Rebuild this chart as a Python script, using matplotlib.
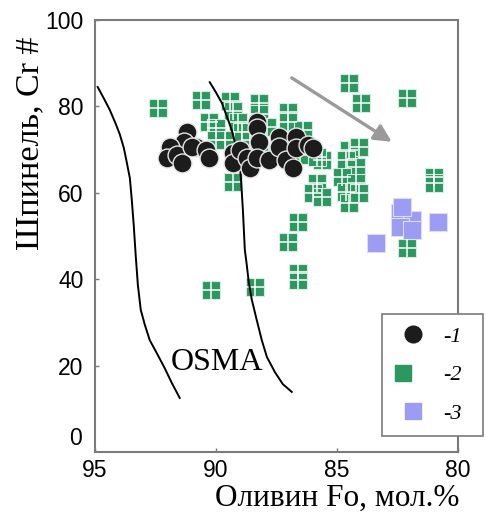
import numpy as np
import matplotlib
matplotlib.use("Agg")
import matplotlib.pyplot as plt
from matplotlib.lines import Line2D
from matplotlib.legend_handler import HandlerTuple

# --- data (Olivine Fo, Spinel Cr#) ---
# group 1: black circles
fo_1 = [91.2, 91.3, 91.9, 92.0, 91.6, 91.4, 90.8, 91.0, 90.4, 90.3,
        89.3, 89.3, 89.0, 88.7, 88.6, 88.3, 88.3, 88.2, 88.3, 87.8,
        87.4, 87.4, 87.1, 86.7, 86.7, 86.8, 86.2, 86.0]
cr_1 = [74.1, 71.8, 70.6, 68.1, 68.8, 66.9, 70.6, 70.6, 69.9, 68.1,
        69.2, 66.9, 69.9, 68.1, 65.7, 76.4, 75.0, 71.8, 68.1, 67.6,
        72.9, 70.6, 67.6, 72.9, 70.4, 65.7, 71.1, 70.4]

# group 2: green squares
fo_2 = [92.4, 90.6, 89.4, 89.3, 88.2, 88.2, 87.0, 87.0, 90.3, 90.0,
        89.1, 88.9, 87.9, 89.6, 88.6, 87.1, 86.5, 90.0, 87.8, 86.4,
        89.3, 85.8, 85.6, 85.8, 86.0, 85.6, 84.5, 84.0, 82.1, 84.5,
        84.1, 84.6, 84.2, 84.8, 84.6, 84.5, 84.2, 84.1, 86.6, 87.0,
        86.6, 86.6, 88.4, 90.2, 81.0, 81.0, 82.1]
cr_2 = [79.6, 81.5, 81.3, 78.9, 80.8, 78.2, 78.7, 76.4, 76.4, 75.0,
        76.4, 74.1, 75.2, 72.2, 72.2, 69.9, 68.8, 72.2, 69.4, 74.5,
        62.5, 62.3, 67.6, 68.3, 60.0, 59.0, 85.4, 80.8, 81.9, 69.9,
        70.6, 67.6, 66.0, 63.7, 60.2, 57.6, 62.3, 60.0, 53.2, 48.6,
        41.4, 39.8, 38.2, 37.5, 63.7, 62.3, 47.2]

# group 3: lilac squares
fo_3 = [83.4, 82.4, 81.9, 82.4, 81.9, 82.3, 80.8]
cr_3 = [48.4, 55.3, 53.7, 52.1, 51.4, 56.7, 53.2]

# OSMA boundary curves (traced)
curve_a_fo = [94.88, 94.63, 94.38, 94.13, 93.97, 93.80, 93.68, 93.55, 93.47, 93.39,
              93.31, 93.22, 93.10, 92.93, 92.73, 92.44, 92.11, 91.82, 91.49]
curve_a_cr = [84.5, 81.9, 79.2, 75.9, 73.6, 70.4, 67.1, 63.4, 58.3, 52.5,
              45.6, 38.7, 32.9, 29.4, 25.9, 22.9, 19.4, 16.0, 12.5]
curve_b_fo = [90.25, 90.00, 89.75, 89.55, 89.34, 89.17, 89.05, 88.97, 88.93, 88.88,
              88.84, 88.80, 88.72, 88.64, 88.51, 88.31, 88.10, 87.89, 87.56, 87.23, 86.86]
curve_b_cr = [85.6, 83.3, 80.8, 77.8, 74.5, 70.8, 67.6, 64.1, 60.6, 56.0,
              51.4, 46.8, 43.3, 39.4, 35.2, 30.6, 25.9, 22.0, 18.5, 15.7, 13.9]

# trend arrow (start, end)
arrow_fo = [86.86, 82.73]
arrow_cr = [86.6, 71.8]

x_ticks = [95, 90, 85, 80]
y_ticks = [20, 40, 60, 80, 100]

GREEN = "#2c9860"
LILAC = "#9b9cf2"
BLACK = "#1c1c1c"
SPINE = "#7a7a7a"
SERIF = "Liberation Serif"
SANS = "Liberation Sans"

fig = plt.figure(figsize=(4.86, 5.13), dpi=100)
ax = fig.add_axes([0.195, 0.119, 0.747, 0.842])

# squares with a white "window" cross
ax.scatter(fo_2, cr_2, marker="s", s=150, c=GREEN, edgecolors="#d6ece0",
           linewidths=0.8, zorder=2)
ax.scatter(fo_2, cr_2, marker="+", s=160, c="white", linewidths=1.1, zorder=2.1)

ax.scatter(fo_3, cr_3, marker="s", s=150, c=LILAC, edgecolors="#dcdcff",
           linewidths=0.8, zorder=2)

ax.plot(curve_a_fo, curve_a_cr, color="black", lw=1.4, zorder=3)
ax.plot(curve_b_fo, curve_b_cr, color="black", lw=1.4, zorder=3)

ax.scatter(fo_1, cr_1, marker="o", s=185, c=BLACK, edgecolors="#e6e6e6",
           linewidths=1.0, zorder=4)

ax.annotate("", xy=(arrow_fo[1], arrow_cr[1]), xytext=(arrow_fo[0], arrow_cr[0]),
            arrowprops=dict(arrowstyle="-|>", color="#9a9a9a", lw=2.4,
                            mutation_scale=26, shrinkA=0, shrinkB=0), zorder=3)

ax.text(89.96, 20.8, "OSMA", fontsize=23, family=SERIF, ha="center", va="center")

ax.set_xlim(95, 80)
ax.set_ylim(0, 100)
ax.set_xticks(x_ticks)
ax.set_xticklabels([str(v) for v in x_ticks])
ax.set_yticks(y_ticks)
ax.set_yticklabels([str(v) for v in y_ticks])
ax.tick_params(direction="in", length=3, width=1, color=SPINE,
               labelsize=16.5, pad=8)
ax.tick_params(axis="x", pad=5)
for lab in ax.get_xticklabels() + ax.get_yticklabels():
    lab.set_family(SANS)
# the zero label sits a bit above the axis in the original
ax.text(-0.035, 0.03, "0", transform=ax.transAxes, fontsize=16.5, family=SANS,
        ha="right", va="center")

for side in ["top", "right", "bottom", "left"]:
    ax.spines[side].set_color(SPINE)
    ax.spines[side].set_linewidth(1.5)

fig.text(0.694, 0.014, "Оливин Fo, мол.%", fontsize=22.5, family=SERIF,
         ha="center", va="baseline")
fig.text(0.062, 0.72, "Шпинель, Cr #", fontsize=24.5, family=SERIF,
         rotation=90, ha="center", va="center")

h1 = Line2D([], [], ls="none", marker="o", ms=12, mfc=BLACK, mec=BLACK)
h2 = (Line2D([], [], ls="none", marker="s", ms=11.5, mfc=GREEN, mec=GREEN),
      Line2D([], [], ls="none", marker="+", ms=12, mec="white", mew=1.1))
h3 = Line2D([], [], ls="none", marker="s", ms=11.5, mfc=LILAC, mec=LILAC)
leg = ax.legend([h1, h2, h3], ["-1", "-2", "-3"],
                handler_map={tuple: HandlerTuple(ndivide=None, pad=0)},
                loc="lower left", bbox_to_anchor=(0.79, 0.037, 0.279, 0.3),
                mode="expand", borderaxespad=0, borderpad=0.55,
                handlelength=1.7, handletextpad=0.5, labelspacing=0.8,
                fancybox=False, framealpha=1, edgecolor=SPINE,
                prop={"family": SERIF, "style": "italic", "size": 16})
leg.get_frame().set_linewidth(1.2)
leg.set_zorder(6)

fig.savefig("out.png", dpi=100)
